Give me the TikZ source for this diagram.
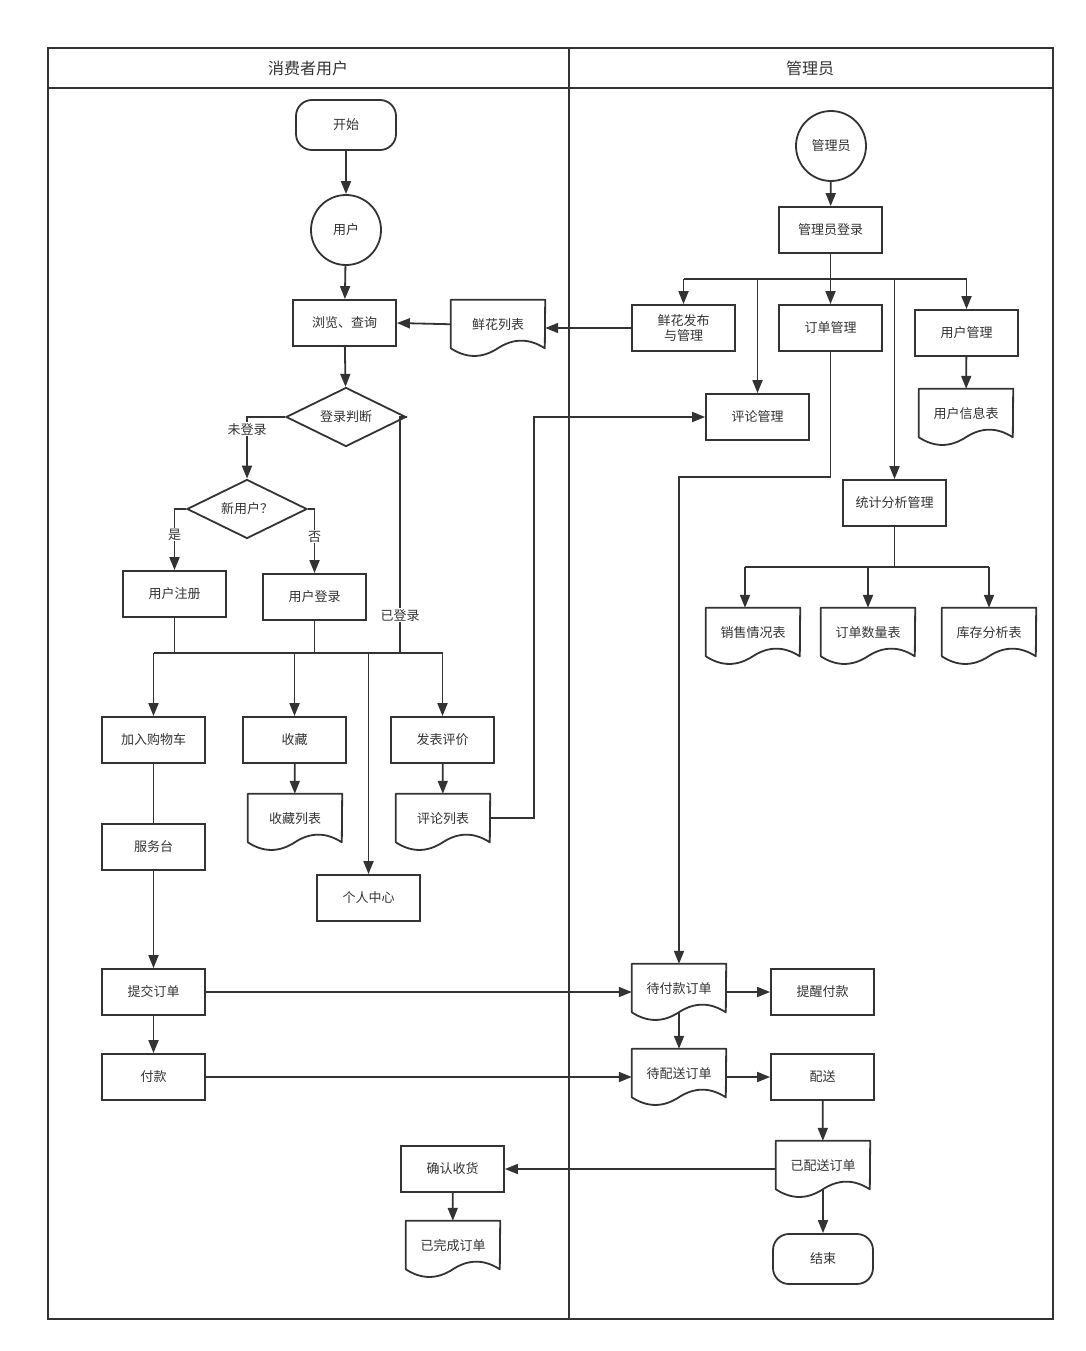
\documentclass[tikz,border=0pt]{standalone}
\usepackage{fontspec}
\setmainfont{Noto Sans CJK SC}
\usetikzlibrary{shapes.geometric,arrows.meta,calc}
\definecolor{ink}{HTML}{333333}
\newcommand\docoutline[1]{%
  \draw[line, line join=round] (#1.north west) -- (#1.north east) -- ($(#1.north west)+(94,48.5)$)
   .. controls ($(#1.north west)+(78.33,38.3)$) and ($(#1.north west)+(62.67,38.3)$) .. ($(#1.north west)+(47,48.5)$)
   .. controls ($(#1.north west)+(31.33,58.7)$) and ($(#1.north west)+(15.67,58.7)$) .. ($(#1.north west)+(0,48.5)$) -- cycle;}
\begin{document}
\begin{tikzpicture}[x=1pt,y=-1pt,
  every node/.style={font=\fontsize{13}{15}\selectfont, text=ink},
  line/.style={draw=ink, line width=1.8pt},
  arr/.style={line, -{Triangle[length=13pt,width=10pt]}},
  box/.style={draw=ink, line width=1.8pt, rectangle, minimum width=103pt, minimum height=46pt, inner sep=0pt, align=center},
  term/.style={box, minimum width=100pt, minimum height=50pt, rounded corners=16pt},
  circ/.style={draw=ink, line width=1.8pt, circle, minimum size=70pt, inner sep=0pt},
  dia/.style={draw=ink, line width=1.8pt, diamond, aspect=2, minimum width=120pt, minimum height=59pt, inner sep=0pt},
  doc/.style={rectangle, minimum width=94pt, minimum height=48.5pt, inner sep=0pt},
  lbl/.style={fill=white, inner sep=1pt},
  lane/.style={font=\fontsize{16}{18}\selectfont}
]
\useasboundingbox (0,0) rectangle (1085,1351);
\fill[white] (0,0) rectangle (1085,1351);
% swimlanes
\draw[line] (48,48) rectangle (1053,1319);
\draw[line] (48,88) -- (1053,88);
\draw[line] (569,48) -- (569,1319);
\node[lane] (laneA) at (308,68) {消费者用户};
\node[lane] (laneB) at (810,68) {管理员};

% left lane nodes
\node[term] (start) at (346,125) {开始};
\node[circ] (user) at (346,230) {用户};
\node[box] (browse) at (344.5,323) {浏览、查询};
\node[doc] (flist) at (498,324.25) {鲜花列表};
\node[dia] (judge) at (346,417) {登录判断};
\node[dia] (newu) at (247,509) {新用户？};
\node[box] (reg) at (174.5,594) {用户注册};
\node[box] (ulogin) at (314.5,597) {用户登录};
\node[box] (cart) at (153.5,740) {加入购物车};
\node[box] (fav) at (294.5,740) {收藏};
\node[box] (review) at (442.5,740) {发表评价};
\node[doc] (favlist) at (295,818.25) {收藏列表};
\node[doc] (rlist) at (443,818.25) {评论列表};
\node[box] (service) at (153.5,847) {服务台};
\node[box] (pc) at (368.5,898) {个人中心};
\node[box] (submit) at (153.5,992) {提交订单};
\node[box] (pay) at (153.5,1077) {付款};
\node[box] (confirm) at (452.5,1169) {确认收货};
\node[doc] (done) at (453,1245.25) {已完成订单};

% right lane nodes
\node[circ] (admin) at (831,146) {管理员};
\node[box] (alog) at (830.5,230) {管理员登录};
\node[box] (fpub) at (683.5,328) {鲜花发布\\与管理};
\node[box] (omgr) at (830.5,328) {订单管理};
\node[box] (umgr) at (966.5,333) {用户管理};
\node[doc] (uinfo) at (966,413.25) {用户信息表};
\node[box] (cmtmgr) at (757.5,417) {评论管理};
\node[box] (stat) at (894.5,503) {统计分析管理};
\node[doc] (sales) at (753,632.25) {销售情况表};
\node[doc] (ocount) at (868,632.25) {订单数量表};
\node[doc] (stock) at (989,632.25) {库存分析表};
\node[doc] (pend) at (679,988.25) {待付款订单};
\node[box] (remind) at (822.5,992) {提醒付款};
\node[doc] (ship) at (679,1073.25) {待配送订单};
\node[box] (deliver) at (822.5,1077) {配送};
\node[doc] (shipped) at (823,1165.25) {已配送订单};
\node[term] (end) at (823,1259) {结束};

% document outlines
\docoutline{flist}
\docoutline{favlist}
\docoutline{rlist}
\docoutline{done}
\docoutline{uinfo}
\docoutline{sales}
\docoutline{ocount}
\docoutline{stock}
\docoutline{pend}
\docoutline{ship}
\docoutline{shipped}

% helper coordinates
\coordinate (busy) at (0,653);
\coordinate (yes) at (400,417);
\coordinate (rvx) at (534,0);
\coordinate (abus) at (0,279);
\coordinate (oy) at (0,477);
\coordinate (sbus) at (0,567);

% left lane connectors
\draw[arr] (start) -- (user);
\draw[arr] (user) -- (browse);
\draw[arr] (flist.west) -- (browse.east);
\draw[arr] (browse) -- (judge);
\draw[arr] (judge.west) -| node[lbl, pos=0.6] (l1) {未登录} (newu.north);
\draw[arr] (newu.west) -| node[lbl, pos=0.71] (l2) {是} (reg.north);
\draw[arr] (newu.east) -| node[lbl, pos=0.715] (l3) {否} (ulogin.north);
\draw[line] (reg.south) -- (reg.south |- busy);
\draw[line] (ulogin.south) -- (ulogin.south |- busy);
\draw[line] (judge.east) -- (yes) -- node[lbl, pos=0.84] (l4) {已登录} (yes |- busy);
\draw[line] (cart.north |- busy) -- (review.north |- busy);
\draw[arr] (cart.north |- busy) -- (cart.north);
\draw[arr] (fav.north |- busy) -- (fav.north);
\draw[arr] (pc.north |- busy) -- (pc.north);
\draw[arr] (review.north |- busy) -- (review.north);
\draw[line] (cart) -- (service);
\draw[arr] (service) -- (submit);
\draw[arr] (submit) -- (pay);
\draw[arr] (fav) -- (favlist);
\draw[arr] (review) -- (rlist);
\draw[arr] (rlist.east) -- (rlist.east -| rvx) |- (cmtmgr.west);
\draw[arr] (submit.east) -- (submit.east -| pend.west);
\draw[arr] (pay.east) -- (pay.east -| ship.west);
\draw[arr] (confirm) -- (done);

% right lane connectors
\draw[arr] (admin) -- (alog);
\draw[line] (alog.south) -- (alog.south |- abus);
\draw[line] (fpub.north |- abus) -- (umgr.north |- abus);
\draw[arr] (fpub.north |- abus) -- (fpub.north);
\draw[arr] (alog.south |- abus) -- (omgr.north);
\draw[arr] (umgr.north |- abus) -- (umgr.north);
\draw[arr] (cmtmgr.north |- abus) -- (cmtmgr.north);
\draw[arr] (stat.north |- abus) -- (stat.north);
\draw[arr] (fpub.west) -- (fpub.west -| flist.east);
\draw[arr] (umgr) -- (uinfo);
\draw[arr] (omgr.south) -- (omgr.south |- oy) -| (pend.north);
\draw[line] (stat.south) -- (stat.south |- sbus);
\draw[line] ([xshift=-8pt]sales.north |- sbus) -- (stock.north |- sbus);
\draw[arr] ([xshift=-8pt]sales.north |- sbus) -- ([xshift=-8pt]sales.north);
\draw[arr] (ocount.north |- sbus) -- (ocount.north);
\draw[arr] (stock.north |- sbus) -- (stock.north);
\draw[arr] (remind.west -| pend.east) -- (remind.west);
\draw[arr] (pend.south) -- (ship.north);
\draw[arr] (deliver.west -| ship.east) -- (deliver.west);
\draw[arr] (deliver) -- (shipped);
\draw[arr] (shipped.west |- confirm.east) -- (confirm.east);
\draw[arr] (shipped.south) -- (end.north);
\end{tikzpicture}
\end{document}
